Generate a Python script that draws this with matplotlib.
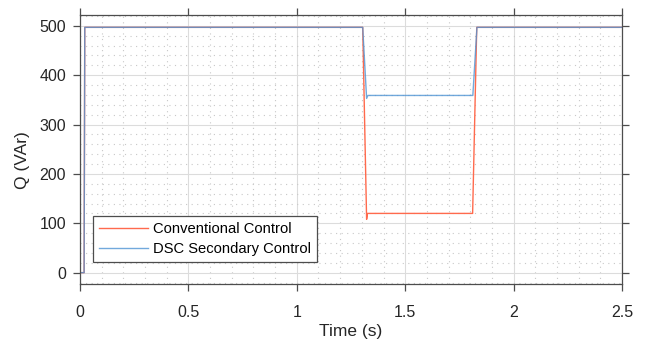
import numpy as np
import matplotlib
matplotlib.use("Agg")
import matplotlib.pyplot as plt
from matplotlib.ticker import MultipleLocator

# Data
t_conv = [0.0, 0.019, 0.022, 1.304, 1.322, 1.326, 1.811, 1.830, 2.5]
q_conv = [0, 0, 497, 497, 108, 120, 120, 497, 497]
t_dsc = [0.0, 0.019, 0.022, 1.304, 1.322, 1.328, 1.812, 1.831, 2.5]
q_dsc = [0, 0, 497, 497, 353, 359, 359, 497, 497]

labels = ["Conventional Control", "DSC Secondary Control"]
xticks = [0, 0.5, 1, 1.5, 2, 2.5]
xticklabels = ["0", "0.5", "1", "1.5", "2", "2.5"]
yticks = [0, 100, 200, 300, 400, 500]

plt.rcParams['font.family'] = ['Liberation Sans', 'DejaVu Sans']

fig = plt.figure(figsize=(6.46, 3.43), dpi=100)
ax = fig.add_axes([80/646, 1-284/343, 542/646, 269/343])

ax.plot(t_conv, q_conv, color='#ff6a4d', lw=1.0, label=labels[0])
ax.plot(t_dsc, q_dsc, color='#4f94d4', lw=1.0, alpha=0.8, label=labels[1])

ax.set_xlim(0, 2.5)
ax.set_ylim(-23, 522)
ax.set_xticks(xticks)
ax.set_xticklabels(xticklabels)
ax.set_yticks(yticks)
ax.xaxis.set_minor_locator(MultipleLocator(0.1))
ax.yaxis.set_minor_locator(MultipleLocator(20))
ax.grid(which='major', color='#dcdcdc', lw=0.8, ls='-')
ax.grid(which='minor', color='#c8c8c8', lw=0.8, ls=(0, (1, 4)))
ax.set_axisbelow(True)

for s in ax.spines.values():
    s.set_color('#4d4d4d')
    s.set_linewidth(0.9)
ax.tick_params(which='major', direction='out', length=5, width=0.9, color='#4d4d4d',
               labelsize=11.5, labelcolor='#262626', top=True, right=True)
ax.tick_params(axis='x', which='major', pad=10)
ax.tick_params(axis='y', which='major', pad=5)
ax.tick_params(which='minor', length=0, top=True, right=True)

ax.set_xlabel("Time (s)", fontsize=12.5, color='#262626', labelpad=3)
ax.set_ylabel("Q (VAr)", fontsize=12.5, color='#262626')
ax.yaxis.set_label_coords(-0.093, 0.46)

leg = ax.legend(loc='lower left', bbox_to_anchor=(0.024, 0.082), borderaxespad=0,
                fontsize=10.6, frameon=True, fancybox=False, edgecolor='#4d4d4d',
                framealpha=1, handlelength=3.35, borderpad=0.4, labelspacing=0.42,
                handletextpad=0.35)
leg.get_frame().set_linewidth(0.9)

fig.savefig("out.png", dpi=100)
